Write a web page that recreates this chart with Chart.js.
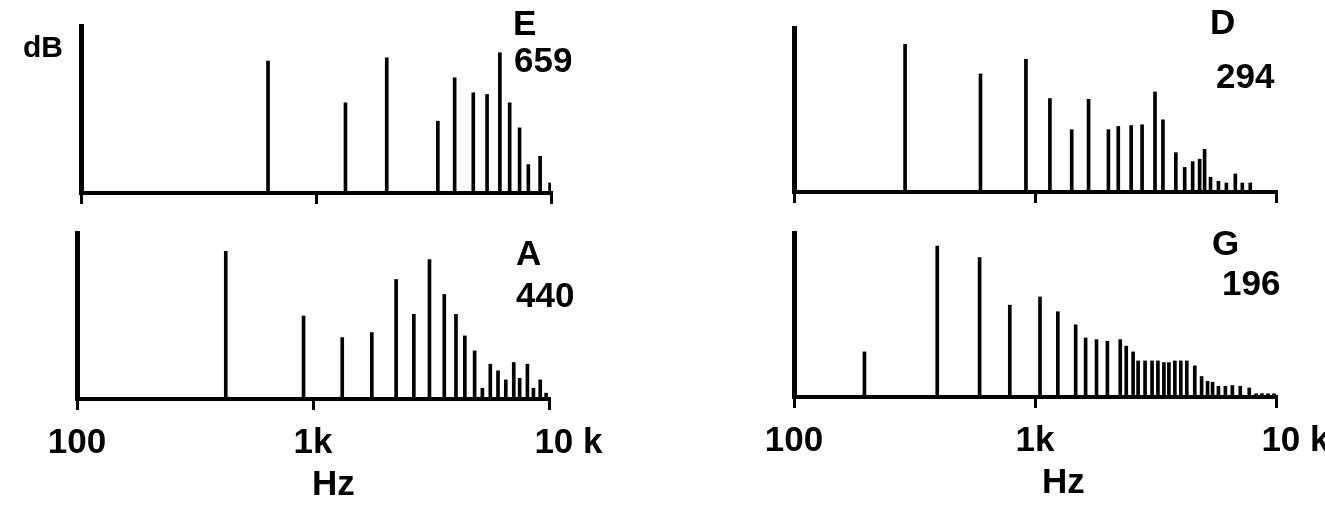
<!DOCTYPE html>
<html><head><meta charset="utf-8">
<script src="https://cdn.jsdelivr.net/npm/chart.js@4.4.1/dist/chart.umd.min.js"></script>
<style>
html,body{margin:0;padding:0;background:#fff;}
body{width:1325px;height:507px;overflow:hidden;position:relative;}
canvas{position:absolute;}
.lbl{position:absolute;font-family:"Liberation Sans",Arial,sans-serif;font-weight:bold;line-height:1;color:#000;white-space:nowrap;}
</style></head><body>
<canvas id="cE"></canvas>
<canvas id="cA"></canvas>
<canvas id="cD"></canvas>
<canvas id="cG"></canvas>
<div class="lbl" style="left:23px;top:32px;font-size:30px">dB</div>
<div class="lbl" style="left:513px;top:5px;font-size:35px">E</div>
<div class="lbl" style="left:514px;top:42px;font-size:35px">659</div>
<div class="lbl" style="left:516px;top:235px;font-size:35px">A</div>
<div class="lbl" style="left:516px;top:277px;font-size:35px">440</div>
<div class="lbl" style="left:1210px;top:4px;font-size:35px">D</div>
<div class="lbl" style="left:1216px;top:58px;font-size:35px">294</div>
<div class="lbl" style="left:1212px;top:225px;font-size:35px">G</div>
<div class="lbl" style="left:1222px;top:265px;font-size:35px">196</div>
<div class="lbl" style="left:312px;top:465px;font-size:35px">Hz</div>
<div class="lbl" style="left:1042px;top:463px;font-size:35px">Hz</div>
<script>
// Tick marks / labels
const tickValues = [100, 1000, 10000];
const tickLabels = ['100', '1k', '    10 k'];

// E 659 (top left)
const eFreq  = [625, 1335, 2000, 3300, 3890, 4670, 5345, 6060, 6670, 7350, 8010, 8990, 9910];
const eLevel = [79, 54, 81, 43, 69, 60, 59, 84, 54, 39, 17, 22, 6];

// A 440 (bottom left)
const aFreq  = [427, 912, 1330, 1775, 2250, 2675, 3115, 3600, 4035, 4400, 4840, 5220, 5640, 6080, 6560, 7090, 7510, 8100, 8590, 9180, 9720];
const aLevel = [89, 50, 37, 40, 72, 51, 84, 63, 51, 38, 29, 6.5, 21, 17, 11.5, 22, 12.5, 21, 6.5, 11.5, 3.5];

// D 294 (top right)
const dFreq  = [289, 594, 917, 1153, 1420, 1668, 2017, 2216, 2506, 2782, 3147, 3395, 3840, 4180, 4510, 4820, 5055, 5350, 5770, 6225, 6780, 7250, 7820];
const dLevel = [90, 72, 81, 57, 38, 56.5, 38, 40, 40.5, 41, 61, 44, 24, 15, 18.5, 20, 26, 9, 6.5, 5.5, 11, 5.5, 5.5];

// G 196 (bottom right)
const gFreq  = [196, 393, 589, 786, 1049, 1244, 1475, 1622, 1800, 1997, 2258, 2391, 2553, 2678, 2862, 3060, 3236, 3427, 3594, 3805, 4027, 4264, 4602, 4913, 5200, 5455, 5770, 6166, 6590, 7108, 7744, 8275, 8750, 9265, 9815];
const gLevel = [27.5, 92, 85, 56, 61, 52, 44, 36, 35, 34, 35, 31, 27.5, 22, 22, 22, 22, 21, 21, 22, 22, 22, 19, 12.5, 9.5, 9, 6.5, 6.5, 7, 6.5, 5.5, 2, 2, 2, 2];

function panel(id, freq, level, b, showLabels) {
  const cv = document.getElementById(id);
  cv.width = b.w; cv.height = b.h;
  cv.style.left = b.x + 'px'; cv.style.top = b.y + 'px';
  cv.style.width = b.w + 'px'; cv.style.height = b.h + 'px';
  new Chart(cv, {
    type: 'bar',
    data: { datasets: [{
      data: freq.map((f, i) => ({ x: f, y: level[i] })),
      backgroundColor: '#000', borderWidth: 0, barThickness: 3
    }] },
    options: {
      responsive: false, animation: false, devicePixelRatio: 1,
      plugins: { legend: { display: false }, tooltip: { enabled: false } },
      layout: { padding: { left: b.L - b.x, right: b.x + b.w - b.R, top: b.T - b.y, bottom: 0 } },
      scales: {
        x: {
          type: 'logarithmic', min: 100, max: 10000, offset: false,
          afterBuildTicks: s => { s.ticks = tickValues.map(v => ({ value: v })); },
          afterFit: s => { s.height = b.y + b.h - b.B; },
          grid: { display: true, drawOnChartArea: false, drawTicks: true, tickLength: 11, lineWidth: 3, color: '#000', offset: false },
          border: { display: true, width: 4, color: '#000' },
          ticks: { display: showLabels, autoSkip: false, maxRotation: 0, padding: 12, color: '#000',
                   font: { family: 'Liberation Sans', weight: 'bold', size: 35 },
                   callback: (v, i) => tickLabels[i] }
        },
        y: {
          type: 'linear', min: 0, max: 100,
          afterFit: s => { s.width = 0; },
          grid: { display: false }, ticks: { display: false },
          border: { display: true, width: 5, color: '#000' }
        }
      }
    }
  });
}

panel('cE', eFreq, eLevel, { x: 0,   y: 0,   w: 662, h: 215, L: 81,  R: 551,  T: 26,  B: 193 }, false);
panel('cA', aFreq, aLevel, { x: 0,   y: 215, w: 662, h: 292, L: 77,  R: 549,  T: 233, B: 399 }, true);
panel('cD', dFreq, dLevel, { x: 662, y: 0,   w: 738, h: 215, L: 794, R: 1276, T: 28,  B: 192 }, false);
panel('cG', gFreq, gLevel, { x: 662, y: 215, w: 738, h: 292, L: 794, R: 1276, T: 233, B: 397 }, true);
</script>
</body></html>
